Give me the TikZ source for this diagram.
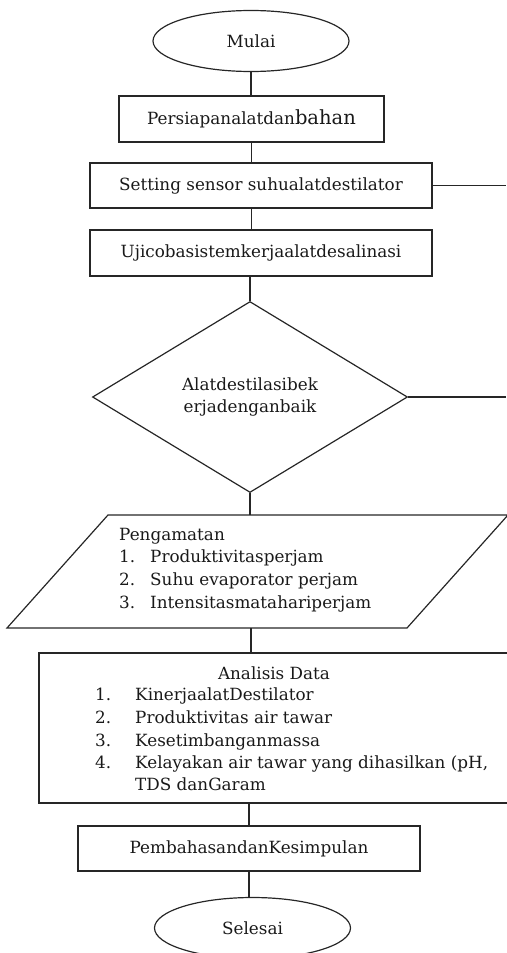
\documentclass[tikz,border=0pt]{standalone}
\usepackage{fontspec}
\setmainfont{DejaVu Serif}
\usetikzlibrary{shapes.geometric}
\tikzset{
  ln/.style={draw=black!85, line width=1.2pt},
  txt/.style={font=\fontsize{16.8}{22.5}\selectfont, text=black!90, inner sep=0pt},
  boxnode/.style={ln, rectangle, txt},
  ovalnode/.style={ln, ellipse, txt, minimum width=196pt, minimum height=61pt, inner sep=0pt},
}
\begin{document}
\begin{tikzpicture}[x=1pt,y=-1pt]
\useasboundingbox (0,0) rectangle (506,953);
% nodes
\node[ovalnode] (mulai) at (251,41) {Mulai};
\node[boxnode, minimum width=265pt, minimum height=46pt] (b1) at (251.5,119)
  {Persiapanalatdan{\fontsize{19.5}{22}\selectfont bahan}};
\node[boxnode, minimum width=342pt, minimum height=45pt] (b2) at (261,185.5)
  {Setting sensor suhualatdestilator};
\node[boxnode, minimum width=342pt, minimum height=46pt] (b3) at (261,253)
  {Ujicobasistemkerjaalatdesalinasi};
\node[ln, diamond, txt, align=center, minimum width=315pt, minimum height=191pt] (dia) at (250,397)
  {Alatdestilasibek\\erjadenganbaik};
\coordinate (r1) at (506,185.5);
\coordinate (r2) at (506,397);
% parallelogram
\coordinate (pTL) at (108,515);
\coordinate (pTR) at (508,515);
\coordinate (pBR) at (407,628);
\coordinate (pBL) at (7,628);
\coordinate (pT) at (250,515);
\coordinate (pB) at (251,628);
\draw[ln] (pTL) -- (pTR) -- (pBR) -- (pBL) -- cycle;
\node[txt, anchor=base west] (peng) at (119,540.5) {Pengamatan};
\node[txt, anchor=base west] (pn1) at (119,562.5) {1.};
\node[txt, anchor=base west] (pt1) at (150,562.5) {Produktivitasperjam};
\node[txt, anchor=base west] (pn2) at (119,585.5) {2.};
\node[txt, anchor=base west] (pt2) at (150,585.5) {Suhu evaporator perjam};
\node[txt, anchor=base west] (pn3) at (119,608) {3.};
\node[txt, anchor=base west] (pt3) at (150,608) {Intensitasmatahariperjam};
% analisis box
\node[boxnode, minimum width=481pt, minimum height=150pt] (ana) at (279.5,728) {};
\node[txt, anchor=base] (anat) at (274,679) {Analisis Data};
\node[txt, anchor=base west] (an1) at (95,700.5) {1.};
\node[txt, anchor=base west] (at1) at (135,700.5) {KinerjaalatDestilator};
\node[txt, anchor=base west] (an2) at (95,723.5) {2.};
\node[txt, anchor=base west] (at2) at (135,723.5) {Produktivitas air tawar};
\node[txt, anchor=base west] (an3) at (95,746) {3.};
\node[txt, anchor=base west] (at3) at (135,746) {Kesetimbanganmassa};
\node[txt, anchor=base west] (an4) at (95,768.5) {4.};
\node[txt, anchor=base west] (at4) at (135,768.5) {Kelayakan air tawar yang dihasilkan (pH,};
\node[txt, anchor=base west] (at5) at (135,790) {TDS danGaram};
\node[boxnode, minimum width=342pt, minimum height=45pt] (pemb) at (249,848.5)
  {PembahasandanKesimpulan};
\node[ovalnode] (sel) at (252.5,928) {Selesai};
% connectors
\draw[ln] (mulai.south) -- (mulai.south |- b1.north);
\draw[ln] (b1.south) -- (b1.south |- b2.north);
\draw[ln] (b1.south |- b2.south) -- (b1.south |- b3.north);
\draw[ln] (dia.north |- b3.south) -- (dia.north);
\draw[ln] (b2.east) -- (r1);
\draw[ln] (dia.east) -- (r2);
\draw[ln] (dia.south) -- (pT);
\draw[ln] (pB) -- (pB |- ana.north);
\draw[ln] (pemb.north |- ana.south) -- (pemb.north);
\draw[ln] (pemb.south) -- (pemb.south |- sel.north);
\end{tikzpicture}
\end{document}
